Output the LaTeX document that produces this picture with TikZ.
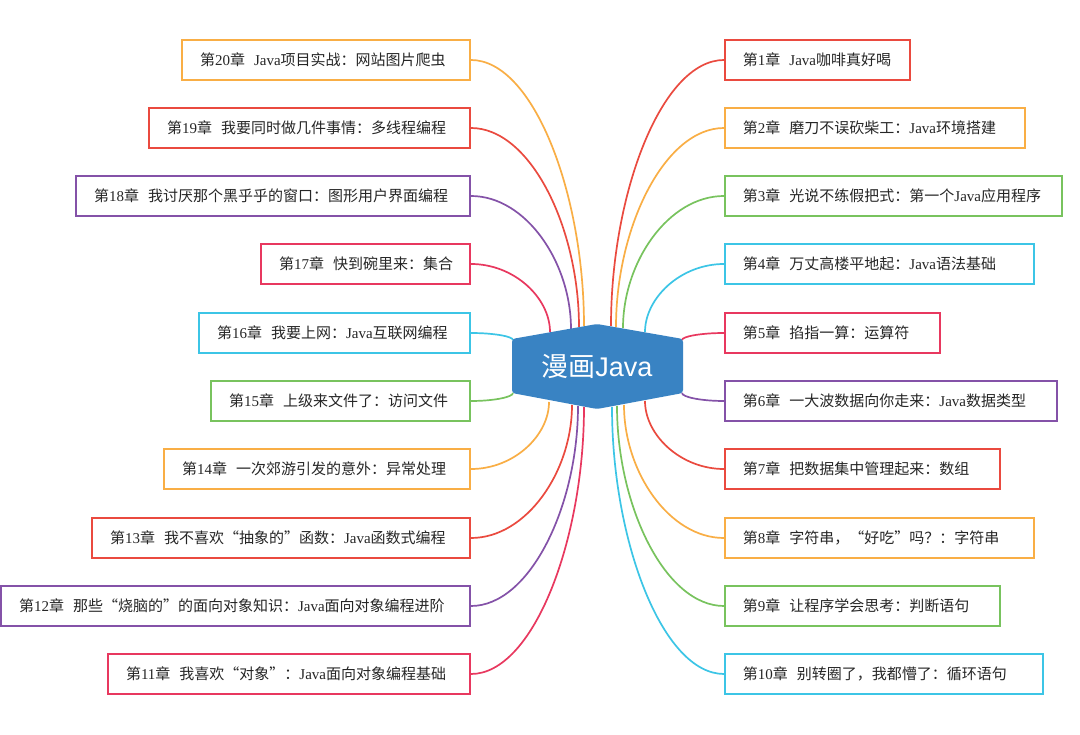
\documentclass[tikz,border=0pt]{standalone}
\usepackage{fontspec}
\setmainfont{Liberation Serif}
\newfontfamily\cjk{Noto Sans CJK SC}
\newfontfamily\hubfont{Liberation Sans}
\usetikzlibrary{calc}
\definecolor{cred}{HTML}{EA4A3F}
\definecolor{corange}{HTML}{F9AE45}
\definecolor{cgreen}{HTML}{78C35E}
\definecolor{ccyan}{HTML}{3CC5E6}
\definecolor{cpink}{HTML}{E8385F}
\definecolor{cpurple}{HTML}{8452A8}
\definecolor{chub}{HTML}{3983C3}
\definecolor{ctext}{HTML}{262626}
\newcommand\lat[1]{{\rmfamily #1}}
\newcommand\chp[2]{\mbox{第\lat{#1}章\hspace{0.6em}#2}}
\tikzset{
  chapbox/.style={draw=#1, line width=1.9pt, fill=white, minimum height=40pt,
    inner xsep=18pt, align=left, text=ctext, font=\cjk\fontsize{15}{18}\selectfont},
  conn/.style={line width=1.7pt, draw=#1},
}
\newcommand\rbox[5]{\node[chapbox=#2, anchor=west, text width=#4pt] (#1) at (724,#3) {#5};}
\newcommand\lbox[5]{\node[chapbox=#2, anchor=east, text width=#4pt] (#1) at (471,#3) {#5};}
\newcommand\conn[3]{\draw[conn=#3] (#1) .. controls ($(#1)!0.5!(#1|-#2)$) and ($(#2)!0.55!(#1|-#2)$) .. (#2);}
\begin{document}
\begin{tikzpicture}[x=1pt,y=-1pt]
\useasboundingbox (0,0) rectangle (1080,735);
\fill[white] (0,0) rectangle (1080,735);
% attachment points on the hub
\coordinate (c1) at (611,326);
\coordinate (c2) at (616,327);
\coordinate (c3) at (623,328);
\coordinate (c4) at (645,332);
\coordinate (c5) at (682,340);
\coordinate (c6) at (682,393);
\coordinate (c7) at (645,401);
\coordinate (c8) at (624,405);
\coordinate (c9) at (617,406);
\coordinate (c10) at (612,407);
\coordinate (c20) at (584,326);
\coordinate (c19) at (579,327);
\coordinate (c18) at (571,329);
\coordinate (c17) at (550,332);
\coordinate (c16) at (513,340);
\coordinate (c15) at (513,393);
\coordinate (c14) at (549,402);
\coordinate (c13) at (572,405);
\coordinate (c12) at (578,406);
\coordinate (c11) at (584,407);
% right boxes
\rbox{r1}{cred}{60}{149}{\chp{1}{\lat{Java}咖啡真好喝}}
\rbox{r2}{corange}{128}{264}{\chp{2}{磨刀不误砍柴工：\lat{Java}环境搭建}}
\rbox{r3}{cgreen}{196}{301}{\chp{3}{光说不练假把式：第一个\lat{Java}应用程序}}
\rbox{r4}{ccyan}{264}{273}{\chp{4}{万丈高楼平地起：\lat{Java}语法基础}}
\rbox{r5}{cpink}{333}{179}{\chp{5}{掐指一算：运算符}}
\rbox{r6}{cpurple}{401}{296}{\chp{6}{一大波数据向你走来：\lat{Java}数据类型}}
\rbox{r7}{cred}{469}{239}{\chp{7}{把数据集中管理起来：数组}}
\rbox{r8}{corange}{538}{273}{\chp{8}{字符串，“好吃”吗？：字符串}}
\rbox{r9}{cgreen}{606}{239}{\chp{9}{让程序学会思考：判断语句}}
\rbox{r10}{ccyan}{674}{282}{\chp{10}{别转圈了，我都懵了：循环语句}}
% left boxes
\lbox{l20}{corange}{60}{252}{\chp{20}{\lat{Java}项目实战：网站图片爬虫}}
\lbox{l19}{cred}{128}{285}{\chp{19}{我要同时做几件事情：多线程编程}}
\lbox{l18}{cpurple}{196}{358}{\chp{18}{我讨厌那个黑乎乎的窗口：图形用户界面编程}}
\lbox{l17}{cpink}{264}{173}{\chp{17}{快到碗里来：集合}}
\lbox{l16}{ccyan}{333}{235}{\chp{16}{我要上网：\lat{Java}互联网编程}}
\lbox{l15}{cgreen}{401}{223}{\chp{15}{上级来文件了：访问文件}}
\lbox{l14}{corange}{469}{270}{\chp{14}{一次郊游引发的意外：异常处理}}
\lbox{l13}{cred}{538}{342}{\chp{13}{我不喜欢“抽象的”函数：\lat{Java}函数式编程}}
\lbox{l12}{cpurple}{606}{433}{\chp{12}{那些“烧脑的”的面向对象知识：\lat{Java}面向对象编程进阶}}
\lbox{l11}{cpink}{674}{326}{\chp{11}{我喜欢“对象”：\lat{Java}面向对象编程基础}}
% connectors
\conn{c1}{r1.west}{cred}
\conn{c2}{r2.west}{corange}
\conn{c3}{r3.west}{cgreen}
\conn{c4}{r4.west}{ccyan}
\conn{c5}{r5.west}{cpink}
\conn{c6}{r6.west}{cpurple}
\conn{c7}{r7.west}{cred}
\conn{c8}{r8.west}{corange}
\conn{c9}{r9.west}{cgreen}
\conn{c10}{r10.west}{ccyan}
\conn{c20}{l20.east}{corange}
\conn{c19}{l19.east}{cred}
\conn{c18}{l18.east}{cpurple}
\conn{c17}{l17.east}{cpink}
\conn{c16}{l16.east}{ccyan}
\conn{c15}{l15.east}{cgreen}
\conn{c14}{l14.east}{corange}
\conn{c13}{l13.east}{cred}
\conn{c12}{l12.east}{cpurple}
\conn{c11}{l11.east}{cpink}
% hub
\fill[chub, rounded corners=3pt] (597,324) -- (683,339) -- (683,393) -- (597,409) -- (512,393) -- (512,339) -- cycle;
\node[text=white, inner sep=0pt] (hub) at (597,367) {\fontsize{27}{30}\selectfont\cjk 漫画\hubfont Java};
\end{tikzpicture}
\end{document}
